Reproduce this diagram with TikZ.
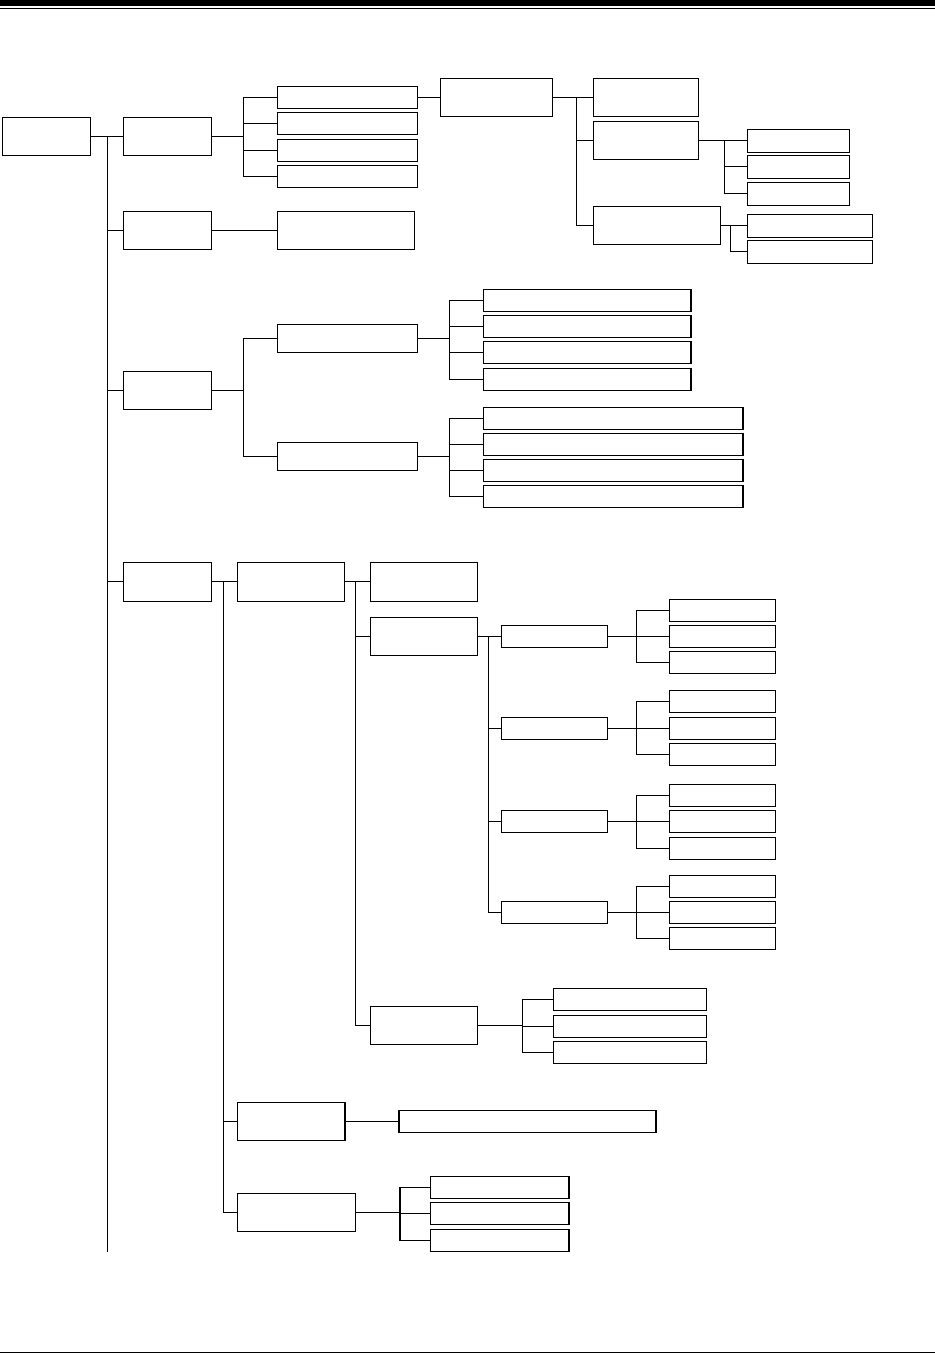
\documentclass[tikz,border=0pt]{standalone}
\begin{document}
\begin{tikzpicture}[x=1pt,y=-1pt,line width=1.1pt,
  bx/.style={draw,rectangle,inner sep=0pt,outer sep=0pt}]
\useasboundingbox (0,0) rectangle (935,1353);
\newcommand{\bx}[5]{\node[bx,minimum width={(#4-#2)*1pt},minimum height={(#5-#3)*1pt}] (#1) at ({(#2+#4)/2},{(#3+#5)/2}) {};}
\newcommand{\lk}[3]{\draw (#1.east) -- ++(#3,0) |- (#2.west);}
% header and footer
\fill (0,0) rectangle (935,5.7);
\draw[line width=1.5pt] (0,8.3) -- (935,8.3);
\draw[line width=1.2pt] (0,1352.2) -- (935,1352.2);
% boxes
\bx{root}{2.3}{117.3}{90.3}{155.3}
\bx{A1}{123.3}{117.3}{211.3}{155.3}
\bx{A1a}{277.3}{86.3}{417.3}{108.3}
\bx{A1b}{277.3}{112.3}{417.3}{134.3}
\bx{A1c}{277.3}{139.3}{417.3}{161.3}
\bx{A1d}{277.3}{165.3}{417.3}{187.3}
\bx{B}{440.3}{78.3}{552.3}{116.3}
\bx{B1}{593.3}{78.3}{698.7}{116.3}
\bx{B2}{593.3}{121.3}{698.7}{159.3}
\bx{B3}{593.3}{206.3}{720.7}{244.3}
\bx{B2a}{747.3}{129.3}{849.3}{152.3}
\bx{B2b}{747.3}{155.3}{849.3}{178.3}
\bx{B2c}{747.3}{182.3}{849.3}{205.3}
\bx{B3a}{747.3}{214.3}{872.7}{237.3}
\bx{B3b}{747.3}{240.3}{872.7}{263.3}
\bx{A2}{123.3}{211.3}{211.3}{249.3}
\bx{A2a}{277.3}{211.3}{414.3}{249.3}
\bx{A3}{123.3}{371.3}{211.3}{409.3}
\bx{A3a}{277.3}{324.3}{417.3}{352.3}
\bx{A3b}{277.3}{442.3}{417.3}{470.3}
\bx{A3a1}{483.8}{289.3}{691}{311.3}
\bx{A3a2}{483.8}{315.3}{691}{337.3}
\bx{A3a3}{483.8}{341.3}{691}{363.3}
\bx{A3a4}{483.8}{368.3}{691}{390.3}
\bx{A3b1}{483.8}{407.3}{743}{429.3}
\bx{A3b2}{483.8}{433.3}{743}{455.3}
\bx{A3b3}{483.8}{459.3}{743}{481.3}
\bx{A3b4}{483.8}{485.3}{743}{507.3}
\bx{A4}{123.3}{562.3}{211.7}{601.3}
\bx{C}{237.3}{562.3}{344.7}{601.3}
\bx{D1}{370.3}{562.3}{477.7}{601.3}
\bx{D2}{370.3}{617.3}{477.7}{655.3}
\bx{E1}{501.3}{625.3}{607.3}{647.3}
\bx{E2}{501.3}{717.3}{607.3}{739.3}
\bx{E3}{501.3}{810.3}{607.3}{832.3}
\bx{E4}{501.3}{901.3}{607.3}{923.3}
\bx{E1a}{669.3}{599.3}{775.3}{621.3}
\bx{E1b}{669.3}{625.3}{775.3}{647.3}
\bx{E1c}{669.3}{651.3}{775.3}{673.3}
\bx{E2a}{669.3}{690.3}{775.3}{712.3}
\bx{E2b}{669.3}{717.3}{775.3}{739.3}
\bx{E2c}{669.3}{743.3}{775.3}{765.3}
\bx{E3a}{669.3}{784.3}{775.3}{806.3}
\bx{E3b}{669.3}{810.3}{775.3}{832.3}
\bx{E3c}{669.3}{837.3}{775.3}{859.3}
\bx{E4a}{669.3}{875.3}{775.3}{897.3}
\bx{E4b}{669.3}{901.3}{775.3}{923.3}
\bx{E4c}{669.3}{927.3}{775.3}{949.3}
\bx{D3}{370.3}{1006.3}{477.3}{1044.3}
\bx{D3a}{553.3}{988.3}{706.3}{1010.3}
\bx{D3b}{553.3}{1015.3}{706.3}{1037.3}
\bx{D3c}{553.3}{1041.3}{706.3}{1063.3}
\bx{C2}{237.3}{1102.3}{345}{1140.3}
\bx{C2a}{399}{1110.3}{656}{1132.3}
\bx{C3}{237.3}{1193.3}{355.8}{1231.3}
\bx{C3a}{430.5}{1176.3}{569}{1198.3}
\bx{C3b}{430.5}{1202.3}{569}{1224.3}
\bx{C3c}{430.5}{1229.3}{569}{1251.3}
% connectors
\coordinate (trunkend) at (107.3,1251.7);
\draw (root.east) -- ++(17,0) -- (trunkend);
\lk{root}{A1}{17} \lk{root}{A2}{17} \lk{root}{A3}{17} \lk{root}{A4}{17}
\lk{A1}{A1a}{32} \lk{A1}{A1b}{32} \lk{A1}{A1c}{32} \lk{A1}{A1d}{32}
\draw (A1a.east) -- (B.west);
\lk{B}{B1}{24.4} \lk{B}{B2}{24.4} \lk{B}{B3}{24.4}
\lk{B2}{B2a}{26} \lk{B2}{B2b}{26} \lk{B2}{B2c}{26}
\lk{B3}{B3a}{9.6} \lk{B3}{B3b}{9.6}
\draw (A2.east) -- (A2a.west);
\lk{A3}{A3a}{32} \lk{A3}{A3b}{32}
\lk{A3a}{A3a1}{32.2} \lk{A3a}{A3a2}{32.2} \lk{A3a}{A3a3}{32.2} \lk{A3a}{A3a4}{32.2}
\lk{A3b}{A3b1}{32.2} \lk{A3b}{A3b2}{32.2} \lk{A3b}{A3b3}{32.2} \lk{A3b}{A3b4}{32.2}
\lk{A4}{C}{11.6} \lk{A4}{C2}{11.6} \lk{A4}{C3}{11.6}
\lk{C}{D1}{11} \lk{C}{D2}{11} \lk{C}{D3}{11}
\lk{D2}{E1}{10.6} \lk{D2}{E2}{10.6} \lk{D2}{E3}{10.6} \lk{D2}{E4}{10.6}
\lk{E1}{E1a}{29} \lk{E1}{E1b}{29} \lk{E1}{E1c}{29}
\lk{E2}{E2a}{29} \lk{E2}{E2b}{29} \lk{E2}{E2c}{29}
\lk{E3}{E3a}{29} \lk{E3}{E3b}{29} \lk{E3}{E3c}{29}
\lk{E4}{E4a}{29} \lk{E4}{E4b}{29} \lk{E4}{E4c}{29}
\lk{D3}{D3a}{45} \lk{D3}{D3b}{45} \lk{D3}{D3c}{45}
\draw (C2.east) -- (C2a.west);
\lk{C3}{C3a}{44.2} \lk{C3}{C3b}{44.2} \lk{C3}{C3c}{44.2}
\end{tikzpicture}
\end{document}
